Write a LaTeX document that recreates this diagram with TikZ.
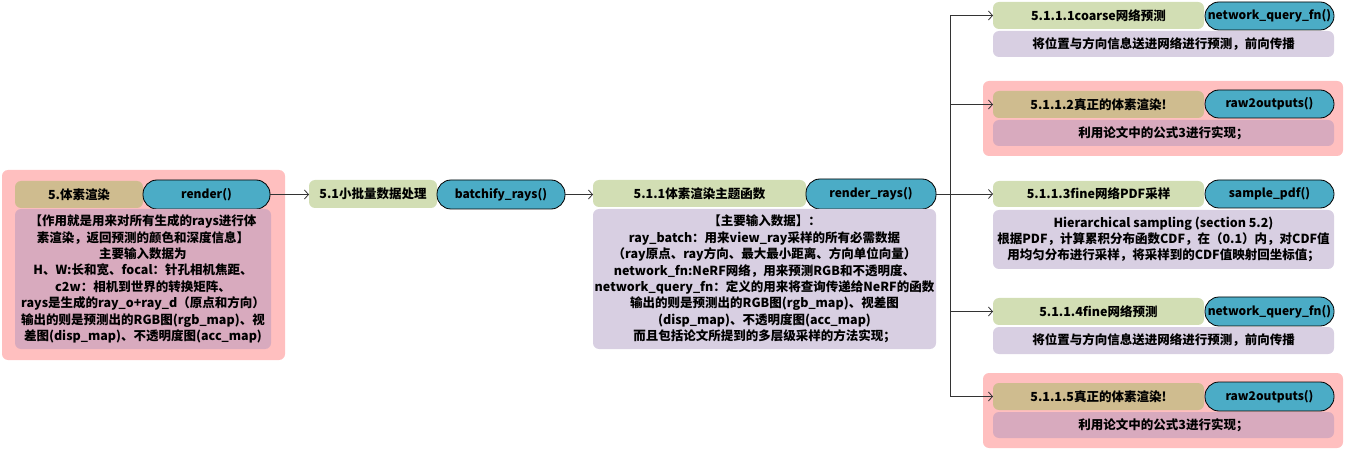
\documentclass[tikz,border=0pt]{standalone}
\usepackage{fontspec}
\setmainfont{Noto Sans CJK SC}
\usetikzlibrary{arrows.meta}
\definecolor{pinkbg}{HTML}{FFBFBF}
\definecolor{greenc}{HTML}{D2DEB4}
\definecolor{tanc}{HTML}{CFBC8F}
\definecolor{tealc}{HTML}{4BACC6}
\definecolor{lavc}{HTML}{D8CFE2}
\definecolor{pinkbody}{HTML}{D8AABE}
\tikzset{
  box/.style={anchor=north west, inner sep=0pt, outer sep=0pt, align=center, font=\fontsize{12.5}{16.4}\selectfont\bfseries},
  grp/.style={box, fill=pinkbg, rounded corners=6pt},
  titleG/.style={box, fill=greenc, rounded corners=6pt},
  titleT/.style={box, fill=tanc, rounded corners=6pt},
  pill/.style={box, fill=tealc, draw=black, line width=0.8pt, rounded corners=14pt, font=\fontsize{12}{14}\selectfont\bfseries},
  bodyL/.style={box, fill=lavc, rounded corners=6pt},
  bodyP/.style={box, fill=pinkbody, rounded corners=6pt},
  conn/.style={draw=black!80, line width=0.9pt},
  arr/.style={conn, -{Straight Barb[length=4pt,width=9pt,line width=0.8pt]}},
}
\begin{document}
\begin{tikzpicture}[x=1pt,y=-1pt]
\useasboundingbox (0,0) rectangle (1345,449);
% left group
\node[grp, minimum width=283pt, minimum height=190pt] (g0) at (2,170) {};
\node[titleT, minimum width=128pt, minimum height=27pt] (t0) at (15,181) {5.体素渲染};
\node[pill, minimum width=127pt, minimum height=29pt] (p0) at (143,180) {render()};
\node[bodyP, minimum width=256pt, minimum height=140pt] (b0) at (15,209) {【作用就是用来对所有生成的rays进行体\\素渲染，返回预测的颜色和深度信息】\\主要输入数据为\\H、W:长和宽、focal：针孔相机焦距、\\c2w：相机到世界的转换矩阵、\\rays是生成的ray\_o+ray\_d（原点和方向）\\输出的则是预测出的RGB图(rgb\_map)、视\\差图(disp\_map)、不透明度图(acc\_map)};
% 5.1
\node[titleG, minimum width=128pt, minimum height=28pt] (t1) at (309,180) {5.1小批量数据处理};
\node[pill, minimum width=128pt, minimum height=29pt] (p1) at (437,180) {batchify\_rays()};
% 5.1.1
\node[titleG, minimum width=213pt, minimum height=27pt] (t2) at (593,180) {5.1.1体素渲染主题函数};
\node[pill, minimum width=130pt, minimum height=30pt] (p2) at (806,179) {render\_rays()};
\node[bodyL, minimum width=343pt, minimum height=140pt] (b2) at (593,209) {【主要输入数据】：\\ray\_batch：用来view\_ray采样的所有必需数据\\（ray原点、ray方向、最大最小距离、方向单位向量）\\network\_fn:NeRF网络，用来预测RGB和不透明度、\\network\_query\_fn：定义的用来将查询传递给NeRF的函数\\输出的则是预测出的RGB图(rgb\_map)、视差图\\(disp\_map)、不透明度图(acc\_map)\\而且包括论文所提到的多层级采样的方法实现；};
% right 1
\node[titleG, minimum width=211pt, minimum height=27pt] (t3) at (993,2) {5.1.1.1coarse网络预测};
\node[pill, minimum width=129pt, minimum height=28pt] (p3) at (1205,2) {network\_query\_fn()};
\node[bodyL, minimum width=341pt, minimum height=26pt] (b3) at (993,31) {将位置与方向信息送进网络进行预测，前向传播};
% right 2
\node[grp, minimum width=360pt, minimum height=75pt] (g4) at (983,81) {};
\node[titleT, minimum width=211pt, minimum height=27pt] (t4) at (993,91) {5.1.1.2真正的体素渲染!};
\node[pill, minimum width=129pt, minimum height=28pt] (p4) at (1205,90) {raw2outputs()};
\node[bodyP, minimum width=341pt, minimum height=26pt] (b4) at (993,120) {利用论文中的公式3进行实现；};
% right 3
\node[titleG, minimum width=211pt, minimum height=26pt] (t5) at (993,181) {5.1.1.3fine网络PDF采样};
\node[pill, minimum width=129pt, minimum height=28pt] (p5) at (1205,180) {sample\_pdf()};
\node[bodyL, minimum width=341pt, minimum height=59pt] (b5) at (993,210) {Hierarchical sampling (section 5.2)\\根据PDF，计算累积分布函数CDF，在（0.1）内，对CDF值\\用均匀分布进行采样，将采样到的CDF值映射回坐标值；};
% right 4
\node[titleG, minimum width=211pt, minimum height=27pt] (t6) at (993,298) {5.1.1.4fine网络预测};
\node[pill, minimum width=129pt, minimum height=29pt] (p6) at (1205,297) {network\_query\_fn()};
\node[bodyL, minimum width=341pt, minimum height=27pt] (b6) at (993,327) {将位置与方向信息送进网络进行预测，前向传播};
% right 5
\node[grp, minimum width=360pt, minimum height=75pt] (g7) at (983,373) {};
\node[titleT, minimum width=211pt, minimum height=27pt] (t7) at (993,383) {5.1.1.5真正的体素渲染!};
\node[pill, minimum width=129pt, minimum height=29pt] (p7) at (1205,382) {raw2outputs()};
\node[bodyP, minimum width=341pt, minimum height=26pt] (b7) at (993,412) {利用论文中的公式3进行实现；};
% connectors
\draw[arr] (p0.east) -- (p0.east -| t1.west);
\draw[arr] (p1.east) -- (p1.east -| t2.west);
\coordinate (j) at (950,194);
\draw[conn] (p2.east) -- (p2.east -| j) -- (j);
\draw[arr] (j) |- (t3.west);
\draw[arr] (j) |- (t4.west);
\draw[arr] (j) -- (t5.west);
\draw[arr] (j) |- (t6.west);
\draw[arr] (j) |- (t7.west);
\end{tikzpicture}
\end{document}
